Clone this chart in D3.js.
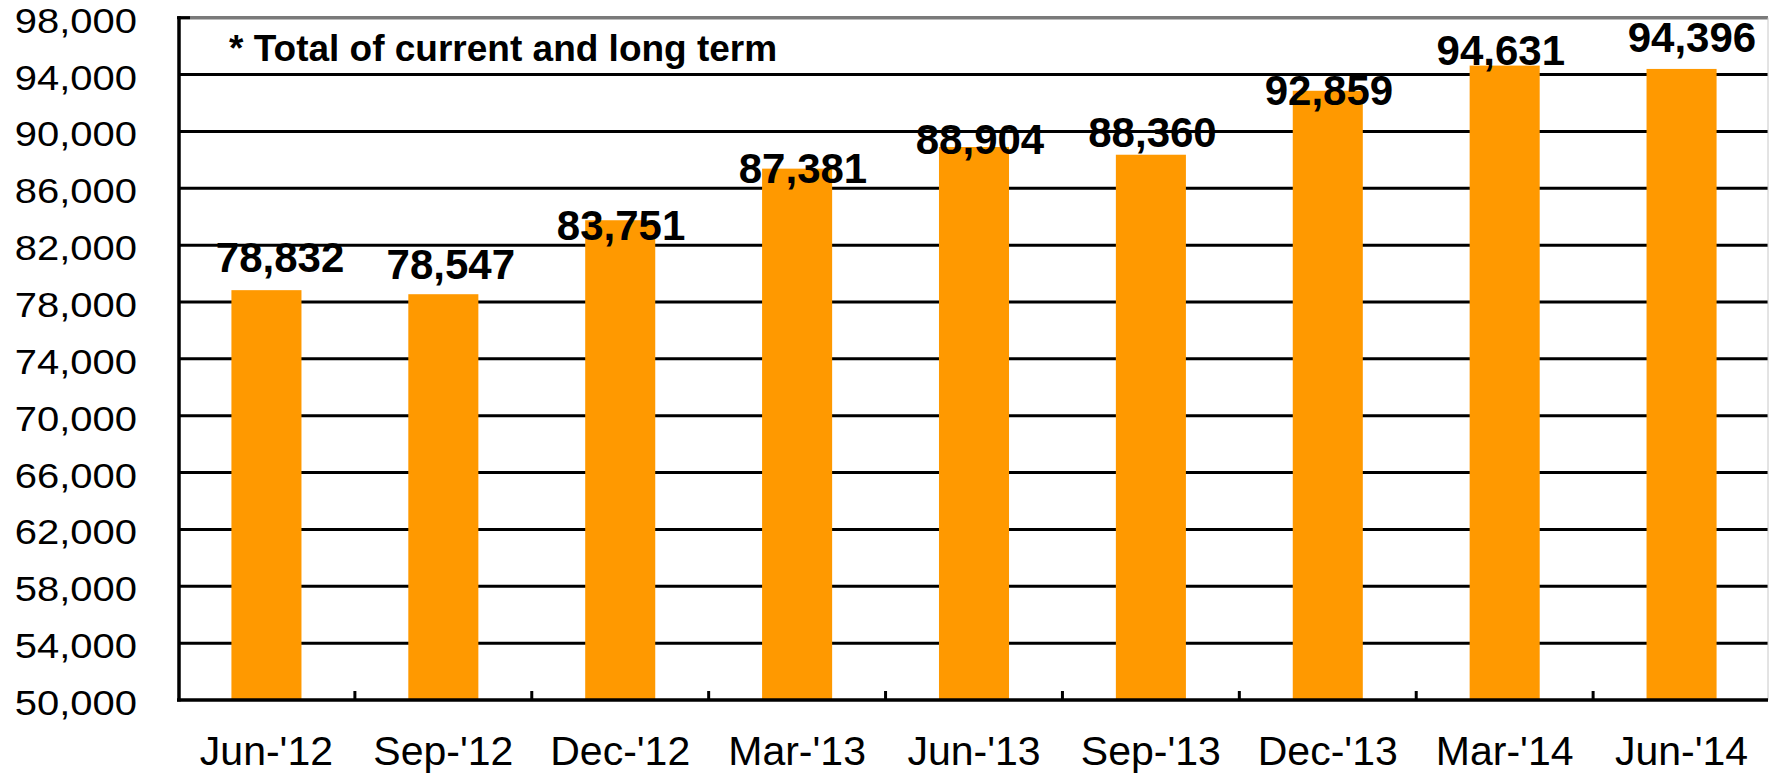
<!DOCTYPE html>
<html>
<head>
<meta charset="utf-8">
<script src="https://cdn.jsdelivr.net/npm/d3@7/dist/d3.min.js"></script>
<style>
  html, body { margin: 0; padding: 0; background: #fff; }
  svg { display: block; }
  text { font-family: "Liberation Sans", Arial, Helvetica, sans-serif; fill: #000; }
</style>
</head>
<body>
<svg id="chart" width="1777" height="773"></svg>
<script>
// ---- data ----
const categories = ["Jun-'12", "Sep-'12", "Dec-'12", "Mar-'13", "Jun-'13", "Sep-'13", "Dec-'13", "Mar-'14", "Jun-'14"];
const values = [78832, 78547, 83751, 87381, 88904, 88360, 92859, 94631, 94396];
const yTicks = [50000, 54000, 58000, 62000, 66000, 70000, 74000, 78000, 82000, 86000, 90000, 94000, 98000];
const note = "* Total of current and long term";

// ---- layout (hand-placed label nudges seen in the reference, px) ----
const labelDx = [13.6, 7.5, 0.8, 5.9, 6, 1.6, 1.2, -3.9, 10.4];
const labelDy = [-18.5, -14.9, 19.8, 14.7, 7.0, -8.0, 14.2, -0.6, -17.2];

const plotLeft = 178, plotRight = 1770, plotTop = 17.7, plotBottom = 700;
const svg = d3.select("#chart");

const x = d3.scaleBand().domain(categories).range([plotLeft, plotRight])
  .paddingInner(0.604).paddingOuter(0.302);
const y = d3.scaleLinear().domain([50000, 98000]).range([plotBottom, plotTop]);
const fmt = d3.format(",");

// gridlines
svg.append("g").selectAll("line")
  .data(yTicks.filter(t => t > 50000 && t < 98000))
  .join("line")
  .attr("x1", plotLeft).attr("x2", 1768)
  .attr("y1", d => y(d)).attr("y2", d => y(d))
  .attr("stroke", "#000").attr("stroke-width", 3);

// top border (gray) & right border
svg.append("line").attr("x1", plotLeft).attr("x2", 1768)
  .attr("y1", y(98000)).attr("y2", y(98000))
  .attr("stroke", "#7a7a7a").attr("stroke-width", 3.5);
svg.append("line").attr("x1", 1768).attr("x2", 1768)
  .attr("y1", y(98000)).attr("y2", plotBottom)
  .attr("stroke", "#c8c8c8").attr("stroke-width", 1);

// bars
svg.append("g").selectAll("rect")
  .data(values)
  .join("rect")
  .attr("x", (d, i) => x(categories[i]))
  .attr("width", x.bandwidth())
  .attr("y", d => y(d))
  .attr("height", d => y(50000) - y(d))
  .attr("fill", "#FF9900");

// axes lines
svg.append("line").attr("x1", 179).attr("x2", 179)
  .attr("y1", y(98000) - 1.5).attr("y2", plotBottom + 1.5)
  .attr("stroke", "#000").attr("stroke-width", 3.5);
svg.append("line").attr("x1", 177).attr("x2", 1768)
  .attr("y1", plotBottom).attr("y2", plotBottom)
  .attr("stroke", "#000").attr("stroke-width", 3.5);
// top-left black tick
svg.append("line").attr("x1", 177).attr("x2", 190)
  .attr("y1", y(98000)).attr("y2", y(98000))
  .attr("stroke", "#000").attr("stroke-width", 3);

// x ticks between categories
svg.append("g").selectAll("line")
  .data(categories.slice(1))
  .join("line")
  .attr("x1", d => x(d) - x.step() * x.paddingInner() / 2)
  .attr("x2", d => x(d) - x.step() * x.paddingInner() / 2)
  .attr("y1", plotBottom - 9).attr("y2", plotBottom)
  .attr("stroke", "#000").attr("stroke-width", 3);

// y tick labels (slightly wide glyphs, as in the reference)
svg.append("g").selectAll("text")
  .data(yTicks)
  .join("text")
  .attr("transform", d => `translate(137,${y(d) + 15}) scale(1.11,1)`)
  .attr("text-anchor", "end")
  .attr("font-size", 36)
  .text(d => fmt(d));

// x labels
svg.append("g").selectAll("text")
  .data(categories)
  .join("text")
  .attr("x", d => x(d) + x.bandwidth() / 2)
  .attr("y", 765)
  .attr("text-anchor", "middle")
  .attr("font-size", 41)
  .text(d => d);

// value labels
svg.append("g").selectAll("text")
  .data(values)
  .join("text")
  .attr("x", (d, i) => x(categories[i]) + x.bandwidth() / 2 + labelDx[i])
  .attr("y", (d, i) => y(d) + labelDy[i])
  .attr("text-anchor", "middle")
  .attr("font-size", 42)
  .attr("font-weight", "bold")
  .text(d => fmt(d));

// note
svg.append("text")
  .attr("x", 229).attr("y", 61)
  .attr("font-size", 37)
  .attr("font-weight", "bold")
  .text(note);
</script>
</body>
</html>
